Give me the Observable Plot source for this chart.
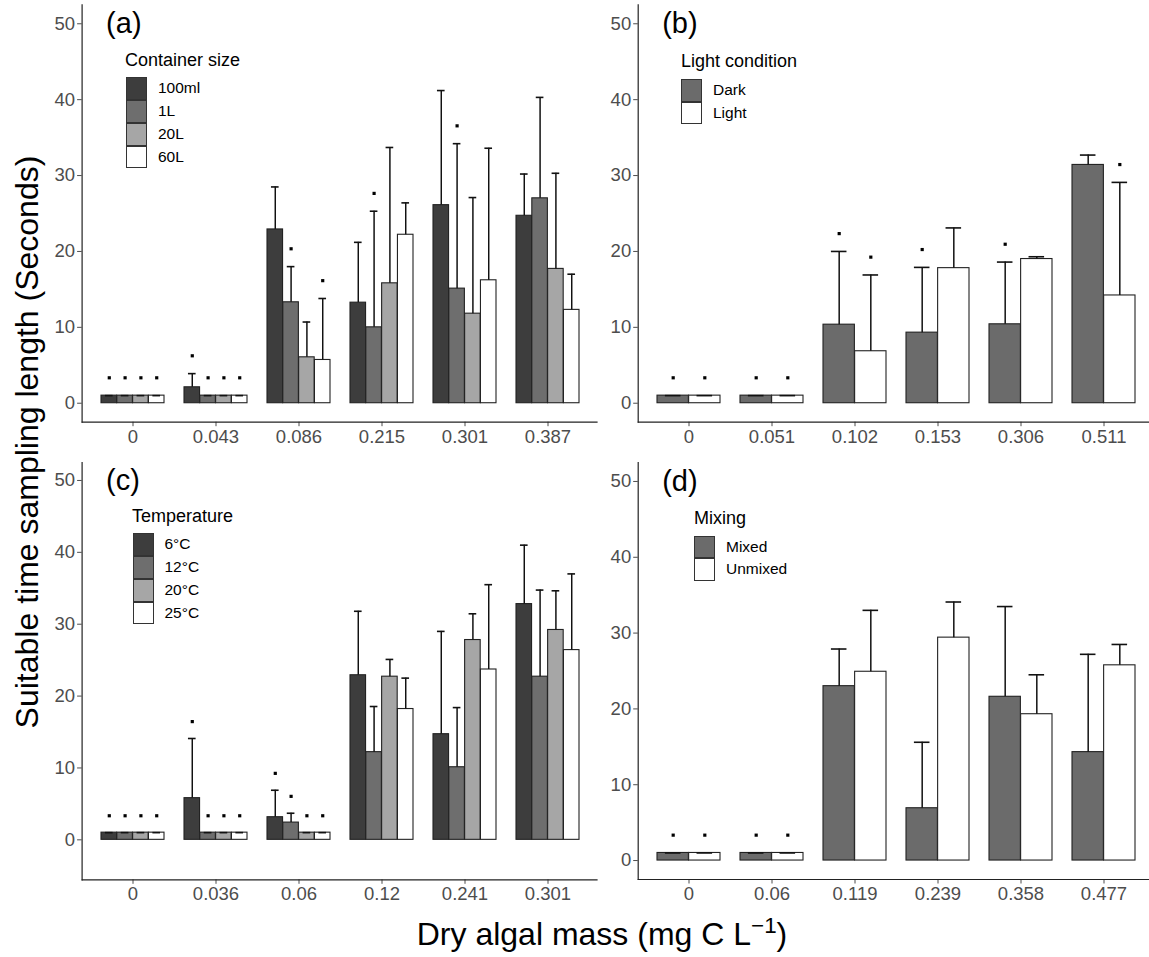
<!DOCTYPE html>
<html><head><meta charset="utf-8">
<script src="https://cdn.jsdelivr.net/npm/d3@7"></script>
<script src="https://cdn.jsdelivr.net/npm/@observablehq/plot@0.6"></script>
<style>
html,body{margin:0;padding:0;background:#fff;overflow:hidden}
#wrap{position:relative;width:1149px;height:957px;overflow:hidden;font-family:"Liberation Sans",Arial,Helvetica,sans-serif;background:#fff}
.panel{position:absolute}
.panel svg{max-width:none !important}
.abs{position:absolute;white-space:nowrap;line-height:1}
.key{position:absolute;box-sizing:border-box;border:1px solid #333}
</style></head><body><div id="wrap"></div>
<script>
// ---------- data ----------
const groupsA = ["0","0.043","0.086","0.215","0.301","0.387"];
const seriesA = ["100ml","1L","20L","60L"];
const meanA  = [[1,1,1,1],[2.1,1,1,1],[22.9,13.3,6.05,5.7],[13.25,10.0,15.8,22.2],[26.1,15.1,11.8,16.2],[24.7,27.0,17.7,12.3]];
const upperA = [[1,1,1,1],[3.9,1,1,1],[28.5,18.0,10.7,13.8],[21.2,25.3,33.7,26.4],[41.2,34.2,27.1,33.6],[30.2,40.3,30.3,17.0]];
const dotA   = [[1,1,1,1],[1,1,1,1],[0,1,0,1],[0,1,0,0],[0,1,0,0],[0,0,0,0]];

const groupsB = ["0","0.051","0.102","0.153","0.306","0.511"];
const seriesB = ["Dark","Light"];
const meanB  = [[1,1],[1,1],[10.35,6.85],[9.3,17.8],[10.4,19.0],[31.4,14.2]];
const upperB = [[1,1],[1,1],[20.0,16.9],[17.9,23.1],[18.6,19.3],[32.7,29.1]];
const dotB   = [[1,1],[1,1],[1,1],[1,0],[1,0],[0,1]];

const groupsC = ["0","0.036","0.06","0.12","0.241","0.301"];
const seriesC = ["6°C","12°C","20°C","25°C"];
const meanC  = [[1,1,1,1],[5.8,1,1,1],[3.15,2.4,1,1],[22.9,12.2,22.7,18.2],[14.7,10.1,27.8,23.7],[32.8,22.7,29.2,26.4]];
const upperC = [[1,1,1,1],[14.1,1,1,1],[6.9,3.7,1,1],[31.8,18.55,25.1,22.5],[29.0,18.4,31.45,35.5],[41.0,34.75,34.65,37.0]];
const dotC   = [[1,1,1,1],[1,1,1,1],[1,1,1,1],[0,0,0,0],[0,0,0,0],[0,0,0,0]];

const groupsD = ["0","0.06","0.119","0.239","0.358","0.477"];
const seriesD = ["Mixed","Unmixed"];
const meanD  = [[1,1],[1,1],[23.0,24.9],[6.9,29.4],[21.6,19.3],[14.3,25.75]];
const upperD = [[1,1],[1,1],[27.9,33.0],[15.6,34.1],[33.5,24.5],[27.2,28.5]];
const dotD   = [[1,1],[1,1],[0,0],[0,0],[0,0],[0,0]];

const yTicks = [0,10,20,30,40,50];
const fills4 = ["#3d3d3d","#6e6e6e","#a6a6a6","#ffffff"];
const fills2 = ["#6b6b6b","#ffffff"];
const dotOffset = 2.35; // significance marker offset above the bar/error top (data units)

const FONT = '"Liberation Sans",Arial,Helvetica,sans-serif';
const wrap = document.getElementById("wrap");

function panel(cfg){
  const {groups, series, means, uppers, dots, fills, yDomain, left, top, width, height, mL, mR, mT, mB, label} = cfg;
  const n = series.length;
  const rows = [];
  groups.forEach((g, gi) => series.forEach((s, si) => rows.push({g, s, si, v: means[gi][si], u: uppers[gi][si], dot: dots[gi][si]})));
  const PI = 0.24, PO = 0.22;
  const frameW = width - mL - mR;
  const step = frameW / (groups.length - PI + 2*PO);
  const bw = step*(1-PI)/n;
  const marks = [];
  for (let i=0;i<n;i++){
    const sub = rows.filter(d=>d.si===i);
    marks.push(Plot.barY(sub, {x:"g", y1:0, y2:"v", fill: fills[i], stroke:"#222", strokeWidth:1.1,
      insetLeft: i*bw, insetRight: (n-1-i)*bw}));
  }
  for (let i=0;i<n;i++){
    const sub = rows.filter(d=>d.si===i);
    const off = (i-(n-1)/2)*bw;
    marks.push(Plot.ruleX(sub.filter(d=>d.u>d.v), {x:"g", y1:"v", y2:"u", dx: off, stroke:"#111", strokeWidth:1.5}));
    marks.push(Plot.tickY(sub, {x:"g", y:"u", insetLeft: i*bw + bw*0.25, insetRight: (n-1-i)*bw + bw*0.25, stroke:"#111", strokeWidth:1.6}));
    marks.push(Plot.dot(sub.filter(d=>d.dot), {x:"g", y: d=>d.u + dotOffset, dx: off, symbol:"square", r:1.8, fill:"#000", stroke:null}));
  }
  marks.push(Plot.axisY({ticks: yTicks, tickSize:4.5, tickPadding:2.5, fontSize:18.5, color:"#4d4d4d", label:null}));
  marks.push(Plot.axisX({tickSize:4.5, tickPadding:3, fontSize:18.5, color:"#4d4d4d", label:null}));
  marks.push(Plot.ruleY([yDomain[0]], {stroke:"#222", strokeWidth:1.2}));
  marks.push(Plot.frame({anchor:"left", stroke:"#222", strokeWidth:1.2}));
  marks.push(Plot.text([50], {y: d=>d, text: ()=>label, frameAnchor:"left", dx:24, textAnchor:"start", fontSize:29, fill:"#000"}));
  const p = Plot.plot({
    width, height, marginLeft:mL, marginRight:mR, marginTop:mT, marginBottom:mB,
    x:{type:"band", domain: groups, paddingInner:PI, paddingOuter:PO, axis:null},
    y:{domain: yDomain, axis:null},
    style:{fontFamily: FONT, background:"transparent", overflow:"visible", maxWidth:"none"},
    marks
  });
  const d = document.createElement("div");
  d.className = "panel";
  d.style.left = left+"px"; d.style.top = top+"px";
  d.style.width = width+"px"; d.style.height = height+"px";
  d.appendChild(p);
  wrap.appendChild(d);
}

function legend(cfg){
  const {title, series, fills, titleLeft, titleBaseline, keyLeft, keyTop, keyW, keyH, labelLeft} = cfg;
  const t = document.createElement("div");
  t.className = "abs";
  t.style.fontSize = "18px";
  t.style.left = titleLeft+"px";
  t.style.top = (titleBaseline - 0.8465*18)+"px";
  t.textContent = title;
  wrap.appendChild(t);
  series.forEach((s,i)=>{
    const k = document.createElement("div");
    k.className = "key";
    k.style.left = keyLeft+"px"; k.style.top = (keyTop + i*keyH)+"px";
    k.style.width = keyW+"px"; k.style.height = keyH+"px";
    k.style.background = fills[i];
    wrap.appendChild(k);
    const l = document.createElement("div");
    l.className = "abs";
    l.style.fontSize = "15.5px";
    l.style.lineHeight = keyH+"px";
    l.style.left = labelLeft+"px"; l.style.top = (keyTop + i*keyH)+"px";
    l.textContent = s;
    wrap.appendChild(l);
  });
}

panel({groups:groupsA, series:seriesA, means:meanA, uppers:upperA, dots:dotA, fills:fills4, yDomain:[-2.5,52.5],
  left:0, top:0, width:600, height:460, mL:81.6, mR:2.4, mT:4.3, mB:38.3, label:"(a)"});
panel({groups:groupsB, series:seriesB, means:meanB, uppers:upperB, dots:dotB, fills:fills2, yDomain:[-2.5,52.5],
  left:556, top:0, width:600, height:460, mL:81.7, mR:2.3, mT:4.3, mB:38.3, label:"(b)"});
panel({groups:groupsC, series:seriesC, means:meanC, uppers:upperC, dots:dotC, fills:fills4, yDomain:[-5.56,52.5],
  left:0, top:440, width:600, height:480, mL:81.6, mR:2.4, mT:22, mB:40.7, label:"(c)"});
panel({groups:groupsD, series:seriesD, means:meanD, uppers:upperD, dots:dotD, fills:fills2, yDomain:[-2.5,52.5],
  left:556, top:440, width:600, height:480, mL:81.7, mR:2.3, mT:22, mB:41, label:"(d)"});

legend({title:"Container size", series:seriesA, fills:fills4, titleLeft:125, titleBaseline:66.7, keyLeft:125.5, keyTop:77.3, keyW:21, keyH:22.75, labelLeft:158});
legend({title:"Light condition", series:seriesB, fills:fills2, titleLeft:681, titleBaseline:67.7, keyLeft:681.4, keyTop:79, keyW:21, keyH:22.5, labelLeft:713});
legend({title:"Temperature", series:seriesC, fills:fills4, titleLeft:132, titleBaseline:522, keyLeft:132.6, keyTop:533.3, keyW:21, keyH:22.75, labelLeft:164.5});
legend({title:"Mixing", series:seriesD, fills:fills2, titleLeft:694, titleBaseline:524.3, keyLeft:694, keyTop:535.7, keyW:21, keyH:22.5, labelLeft:726});

// axis titles
const yt = document.createElement("div");
yt.className = "abs";
yt.style.fontSize = "32px";
yt.style.left = "27px"; yt.style.top = "442px";
yt.style.transform = "translate(-50%,-50%) rotate(-90deg)";
yt.textContent = "Suitable time sampling length (Seconds)";
wrap.appendChild(yt);

const xt = document.createElement("div");
xt.className = "abs";
xt.style.fontSize = "32px";
xt.style.left = "602px"; xt.style.top = (945 - 0.8465*32)+"px";
xt.style.transform = "translateX(-50%)";
xt.innerHTML = 'Dry algal mass (mg C L<sup style="font-size:70%;vertical-align:0.55em;line-height:0">\u22121</sup>)';
wrap.appendChild(xt);
</script></body></html>
